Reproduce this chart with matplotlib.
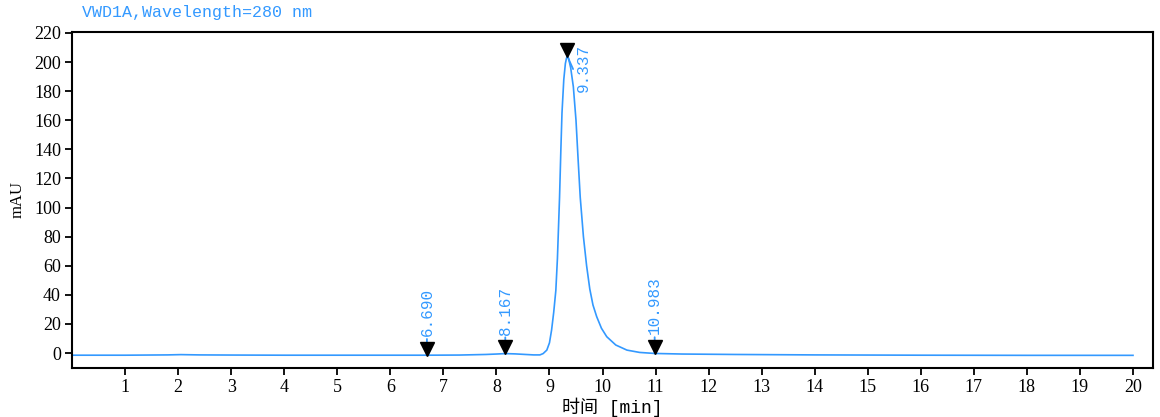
import matplotlib
matplotlib.use("Agg")
import matplotlib.pyplot as plt
from matplotlib.transforms import ScaledTranslation

# chromatogram trace (time in min, signal in mAU)
times = [0.0, 1.0, 1.8, 2.05, 2.4, 3.0, 4.0, 5.0, 6.0, 6.69, 7.3, 7.8, 8.0, 8.167,
         8.35, 8.55, 8.7, 8.82, 8.88, 8.95, 9.0, 9.04, 9.08, 9.12, 9.15, 9.19, 9.215,
         9.236, 9.27, 9.30, 9.32, 9.337, 9.36, 9.40, 9.45, 9.50, 9.54, 9.58, 9.64,
         9.70, 9.76, 9.82, 9.89, 9.98, 10.08, 10.25, 10.46, 10.7, 10.983, 11.5,
         12.5, 14.0, 16.0, 18.0, 20.0]
signal = [-1.5, -1.5, -1.3, -1.1, -1.3, -1.4, -1.5, -1.5, -1.5, -1.5, -1.4, -1.0, -0.7, -0.4,
          -0.6, -1.0, -1.3, -1.3, -0.4, 2.0, 7.0, 15.8, 28.0, 43.0, 65.0, 107.0, 140.0,
          165.0, 188.0, 199.0, 202.5, 204.0, 202.5, 196.0, 183.0, 160.0, 133.0, 107.0, 80.0,
          60.0, 44.0, 33.0, 25.0, 17.0, 11.2, 5.5, 2.0, 0.4, -0.3, -0.7,
          -1.0, -1.3, -1.5, -1.6, -1.6]

# integrated peak marks
peak_times = [6.690, 8.167, 9.337, 10.983]
peak_values = [-1.5, -0.4, 204.0, -0.3]
peak_labels = ["6.690", "8.167", "9.337", "10.983"]

blue = "#3399ff"

fig = plt.figure(figsize=(11.6, 4.17), dpi=100)
ax = fig.add_axes([0.0621, 0.1175, 0.932, 0.806])

ax.plot(times, signal, color=blue, lw=1.2, zorder=2)

# triangles sit with their tip on the trace
tri_shift = ax.transData + ScaledTranslation(0, 6.5 / 100, fig.dpi_scale_trans)
for t, v, lab in zip(peak_times, peak_values, peak_labels):
    if lab == "9.337":
        offset = (16, -36)
    else:
        offset = (0, 19)
    ax.annotate(lab, xy=(t, v), xytext=offset, textcoords="offset pixels",
                rotation=90, ha="center", va="bottom", color=blue,
                family="Liberation Mono", fontsize=11.5,
                arrowprops=dict(arrowstyle="-", color=blue, lw=1.3,
                                shrinkA=0, shrinkB=0, relpos=(0.5, 0.0)),
                zorder=3)
    ax.plot([t], [v], marker="v", color="black", markersize=10, ls="none",
            transform=tri_shift, zorder=4)

ax.set_xlim(0, 20.38)
ax.set_ylim(-10.3, 220.7)
ax.set_xticks(range(1, 21))
ax.set_yticks(range(0, 221, 20))

for sp in ax.spines.values():
    sp.set_linewidth(1.5)
    sp.set_color("black")
ax.tick_params(direction="out", length=5, width=1.3, labelsize=13, pad=3, colors="black")
for lbl in ax.get_xticklabels() + ax.get_yticklabels():
    lbl.set_family("Liberation Serif")

ax.set_ylabel("mAU", family="Liberation Serif", fontsize=12, labelpad=6)
ax.set_xlabel("时间 [min]", family=["Liberation Mono", "Noto Sans CJK SC"], fontsize=13, labelpad=1)

fig.text(82 / 1160, 1 - 12 / 417, "VWD1A,Wavelength=280 nm", color=blue,
         family="Liberation Mono", fontsize=12, ha="left", va="center")

fig.savefig("out.png", dpi=100)
